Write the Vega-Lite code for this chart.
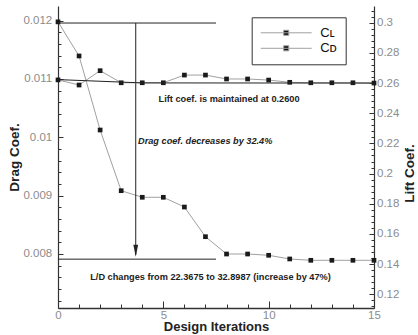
{
  "$schema": "https://vega.github.io/schema/vega-lite/v6.json",
  "width": 316,
  "height": 302,
  "autosize": {"type": "none"},
  "padding": {"left": 58, "top": 6, "right": 44, "bottom": 27},
  "background": "white",
  "config": {
    "view": {"stroke": null},
    "axis": {
      "grid": false,
      "labelFont": "Liberation Sans",
      "labelColor": "#8c8c8c",
      "labelFontSize": 11.5,
      "titleFont": "Liberation Sans",
      "titleFontWeight": "bold",
      "titleFontSize": 13.5,
      "titleColor": "#222222",
      "domainColor": "#333333",
      "tickColor": "#333333",
      "labelOverlap": false,
      "labelFlush": false
    }
  },
  "datasets": {
    "drag": [
      {"iteration": 0, "series": "CD", "value": 0.01198},
      {"iteration": 1, "series": "CD", "value": 0.011395},
      {"iteration": 2, "series": "CD", "value": 0.010125},
      {"iteration": 3, "series": "CD", "value": 0.009084},
      {"iteration": 4, "series": "CD", "value": 0.008971},
      {"iteration": 5, "series": "CD", "value": 0.008971},
      {"iteration": 6, "series": "CD", "value": 0.008804},
      {"iteration": 7, "series": "CD", "value": 0.008295},
      {"iteration": 8, "series": "CD", "value": 0.007998},
      {"iteration": 9, "series": "CD", "value": 0.007998},
      {"iteration": 10, "series": "CD", "value": 0.007976},
      {"iteration": 11, "series": "CD", "value": 0.007913},
      {"iteration": 12, "series": "CD", "value": 0.00789},
      {"iteration": 13, "series": "CD", "value": 0.00789},
      {"iteration": 14, "series": "CD", "value": 0.00789},
      {"iteration": 15, "series": "CD", "value": 0.00789}
    ],
    "lift": [
      {"iteration": 0, "series": "CL", "value": 0.2621},
      {"iteration": 1, "series": "CL", "value": 0.2587},
      {"iteration": 2, "series": "CL", "value": 0.2682},
      {"iteration": 3, "series": "CL", "value": 0.2602},
      {"iteration": 4, "series": "CL", "value": 0.2602},
      {"iteration": 5, "series": "CL", "value": 0.2602},
      {"iteration": 6, "series": "CL", "value": 0.2653},
      {"iteration": 7, "series": "CL", "value": 0.2653},
      {"iteration": 8, "series": "CL", "value": 0.2627},
      {"iteration": 9, "series": "CL", "value": 0.2627},
      {"iteration": 10, "series": "CL", "value": 0.262},
      {"iteration": 11, "series": "CL", "value": 0.2605},
      {"iteration": 12, "series": "CL", "value": 0.2602},
      {"iteration": 13, "series": "CL", "value": 0.2602},
      {"iteration": 14, "series": "CL", "value": 0.2602},
      {"iteration": 15, "series": "CL", "value": 0.26}
    ]
  },
  "layer": [
    {
      "data": {"name": "drag"},
      "layer": [
        {
          "mark": {"type": "line", "stroke": "#a0a0a0", "strokeWidth": 1},
          "encoding": {
            "x": {
              "field": "iteration",
              "type": "quantitative",
              "scale": {"domain": [0, 15], "nice": false, "zero": false},
              "axis": {
                "orient": "bottom",
                "title": "Design Iterations",
                "titleFontSize": 13,
                "values": [0, 5, 10, 15],
                "format": "d",
                "tickSize": -7,
                "labelPadding": 8.5,
                "labelOverlap": false,
                "labelFlush": false,
                "titlePadding": -0.5,
                "domainWidth": 1.6
              }
            },
            "y": {
              "field": "value",
              "type": "quantitative",
              "scale": {"domain": [0.007072, 0.012252], "nice": false, "zero": false},
              "axis": {
                "orient": "left",
                "title": "Drag Coef.",
                "values": [0.008, 0.009, 0.01, 0.011, 0.012],
                "format": "~g",
                "tickSize": -5,
                "labelPadding": 11.3,
                "labelOverlap": false,
                "titlePadding": 1,
                "domainWidth": 1.2
              }
            },
            "color": {
              "field": "series",
              "type": "nominal",
              "scale": {"domain": ["CL", "CD"], "range": ["#a0a0a0", "#a0a0a0"]},
              "legend": {
                "orient": "none",
                "legendX": 193.7,
                "legendY": 11.3,
                "title": null,
                "symbolType": "M-1,0H1M-0.1,-0.1H0.1V0.1H-0.1Z",
                "symbolSize": 2601,
                "symbolStrokeWidth": 1,
                "clipHeight": 14,
                "rowPadding": 1.5,
                "padding": 8.5,
                "strokeColor": "#333333",
                "labelFont": "Liberation Sans",
                "labelFontSize": 13,
                "labelColor": "#111111",
                "labelOffset": 8,
                "labelExpr": "datum.label == 'CL' ? 'Cʟ' : 'Cᴅ'",
                "encode": {"symbols": {"update": {"fill": {"value": "#111111"}, "stroke": {"value": "#999999"}}}}
              }
            }
          }
        },
        {
          "mark": {"type": "point", "shape": "square", "filled": true, "fill": "#1a1a1a", "size": 22, "opacity": 1},
          "encoding": {
            "x": {"field": "iteration", "type": "quantitative"},
            "y": {"field": "value", "type": "quantitative"}
          }
        },
        {
          "data": {"values": [{}]},
          "mark": {"type": "rule", "color": "#222222", "strokeWidth": 1},
          "encoding": {
            "x": {"datum": 0, "type": "quantitative"},
            "x2": {"datum": 7.5},
            "y": {"datum": 0.01196, "type": "quantitative"},
            "y2": {"datum": 0.01196}
          }
        },
        {
          "data": {"values": [{}]},
          "mark": {"type": "rule", "color": "#222222", "strokeWidth": 1},
          "encoding": {
            "x": {"datum": 0, "type": "quantitative"},
            "x2": {"datum": 7.5},
            "y": {"datum": 0.00791, "type": "quantitative"},
            "y2": {"datum": 0.00791}
          }
        },
        {
          "data": {"values": [{}]},
          "mark": {"type": "rule", "color": "#222222", "strokeWidth": 1},
          "encoding": {
            "x": {"datum": 3.69, "type": "quantitative"},
            "y": {"datum": 0.01196, "type": "quantitative"},
            "y2": {"datum": 0.00798}
          }
        },
        {
          "data": {"values": [{}]},
          "mark": {"type": "point", "shape": "M-0.4,-1L0.4,-1L0,1Z", "filled": true, "fill": "#222222", "size": 144, "opacity": 1},
          "encoding": {
            "x": {"datum": 3.69, "type": "quantitative"},
            "y": {"datum": 0.008055, "type": "quantitative"}
          }
        },
        {
          "data": {"values": [{}]},
          "mark": {"type": "text", "text": "Lift coef. is maintained at 0.2600", "font": "Liberation Sans", "fontWeight": "bold", "fontSize": 9.2, "color": "#222222", "align": "center", "baseline": "middle"},
          "encoding": {
            "x": {"datum": 8.12, "type": "quantitative"},
            "y": {"datum": 0.010652, "type": "quantitative"}
          }
        },
        {
          "data": {"values": [{}]},
          "mark": {"type": "text", "text": "Drag coef. decreases by 32.4%", "font": "Liberation Sans", "fontWeight": "bold", "fontStyle": "italic", "fontSize": 9.2, "color": "#222222", "align": "left", "baseline": "middle"},
          "encoding": {
            "x": {"datum": 3.8, "type": "quantitative"},
            "y": {"datum": 0.009942, "type": "quantitative"}
          }
        },
        {
          "data": {"values": [{}]},
          "mark": {"type": "text", "text": "L/D changes from 22.3675 to 32.8987 (increase by 47%)", "font": "Liberation Sans", "fontWeight": "bold", "fontSize": 9.2, "color": "#222222", "align": "center", "baseline": "middle"},
          "encoding": {
            "x": {"datum": 7.24, "type": "quantitative"},
            "y": {"datum": 0.007609, "type": "quantitative"}
          }
        }
      ]
    },
    {
      "data": {"name": "lift"},
      "layer": [
        {
          "mark": {"type": "line", "stroke": "#a0a0a0", "strokeWidth": 1},
          "encoding": {
            "x": {"field": "iteration", "type": "quantitative", "scale": {"domain": [0, 15], "nice": false, "zero": false}, "axis": null},
            "y": {
              "field": "value",
              "type": "quantitative",
              "scale": {"domain": [0.11094, 0.31107], "nice": false, "zero": false},
              "axis": {
                "orient": "right",
                "title": "Lift Coef.",
                "titleAngle": 270,
                "titleX": 35,
                "titleY": 167,
                "titleAlign": "center",
                "titleBaseline": "middle",
                "values": [0.12, 0.16, 0.2, 0.24, 0.28],
                "format": "~g",
                "tickSize": -5,
                "labelPadding": 7.5,
                "labelOverlap": false,
                "domainWidth": 1.2
              }
            },
            "color": {"field": "series", "type": "nominal"}
          }
        },
        {
          "mark": {"type": "point", "shape": "square", "filled": true, "fill": "#1a1a1a", "size": 22, "opacity": 1},
          "encoding": {
            "x": {"field": "iteration", "type": "quantitative"},
            "y": {"field": "value", "type": "quantitative"}
          }
        },
        {
          "data": {"values": [{}]},
          "mark": {"type": "rule", "color": "#222222", "strokeWidth": 1},
          "encoding": {
            "x": {"datum": 0, "type": "quantitative"},
            "x2": {"datum": 4},
            "y": {"datum": 0.2623, "type": "quantitative"},
            "y2": {"datum": 0.2601}
          }
        },
        {
          "data": {"values": [{}]},
          "mark": {"type": "rule", "color": "#222222", "strokeWidth": 1},
          "encoding": {
            "x": {"datum": 4, "type": "quantitative"},
            "x2": {"datum": 15},
            "y": {"datum": 0.2601, "type": "quantitative"},
            "y2": {"datum": 0.2600}
          }
        }
      ]
    },
    {
      "data": {"name": "drag"},
      "mark": {"type": "point", "opacity": 0},
      "encoding": {
        "x": {
          "field": "iteration",
          "type": "quantitative",
          "scale": {"domain": [0, 15], "nice": false, "zero": false},
          "axis": {"orient": "bottom", "title": null, "labels": false, "domain": false, "values": [1, 2, 3, 4, 6, 7, 8, 9, 11, 12, 13, 14], "tickSize": -4}
        },
        "y": {
          "field": "value",
          "type": "quantitative",
          "scale": {"domain": [0.007072, 0.012252], "nice": false, "zero": false},
          "axis": {"orient": "left", "title": null, "labels": false, "domain": false, "values": [0.0072, 0.0074, 0.0076, 0.0078, 0.0082, 0.0084, 0.0086, 0.0088, 0.0092, 0.0094, 0.0096, 0.0098, 0.0102, 0.0104, 0.0106, 0.0108, 0.0112, 0.0114, 0.0116, 0.0118], "tickSize": -3}
        }
      }
    },
    {
      "data": {"name": "lift"},
      "mark": {"type": "point", "opacity": 0},
      "encoding": {
        "x": {"field": "iteration", "type": "quantitative", "scale": {"domain": [0, 15], "nice": false, "zero": false}, "axis": null},
        "y": {
          "field": "value",
          "type": "quantitative",
          "scale": {"domain": [0.11094, 0.31107], "nice": false, "zero": false},
          "axis": {"orient": "right", "title": null, "domain": false, "values": [0.14, 0.18, 0.22, 0.26, 0.3], "format": "~g", "tickSize": -5, "labelPadding": 7.5, "labelOverlap": false}
        }
      }
    },
    {
      "data": {"name": "lift"},
      "mark": {"type": "point", "opacity": 0},
      "encoding": {
        "x": {"field": "iteration", "type": "quantitative", "scale": {"domain": [0, 15], "nice": false, "zero": false}, "axis": null},
        "y": {
          "field": "value",
          "type": "quantitative",
          "scale": {"domain": [0.11094, 0.31107], "nice": false, "zero": false},
          "axis": {"orient": "right", "title": null, "labels": false, "domain": false, "values": [0.112, 0.116, 0.124, 0.128, 0.132, 0.136, 0.144, 0.148, 0.152, 0.156, 0.164, 0.168, 0.172, 0.176, 0.184, 0.188, 0.192, 0.196, 0.204, 0.208, 0.212, 0.216, 0.224, 0.228, 0.232, 0.236, 0.244, 0.248, 0.252, 0.256, 0.264, 0.268, 0.272, 0.276, 0.284, 0.288, 0.292, 0.296, 0.304, 0.308], "tickSize": -3}
        }
      }
    }
  ],
  "resolve": {"scale": {"x": "independent", "y": "independent"}}
}
